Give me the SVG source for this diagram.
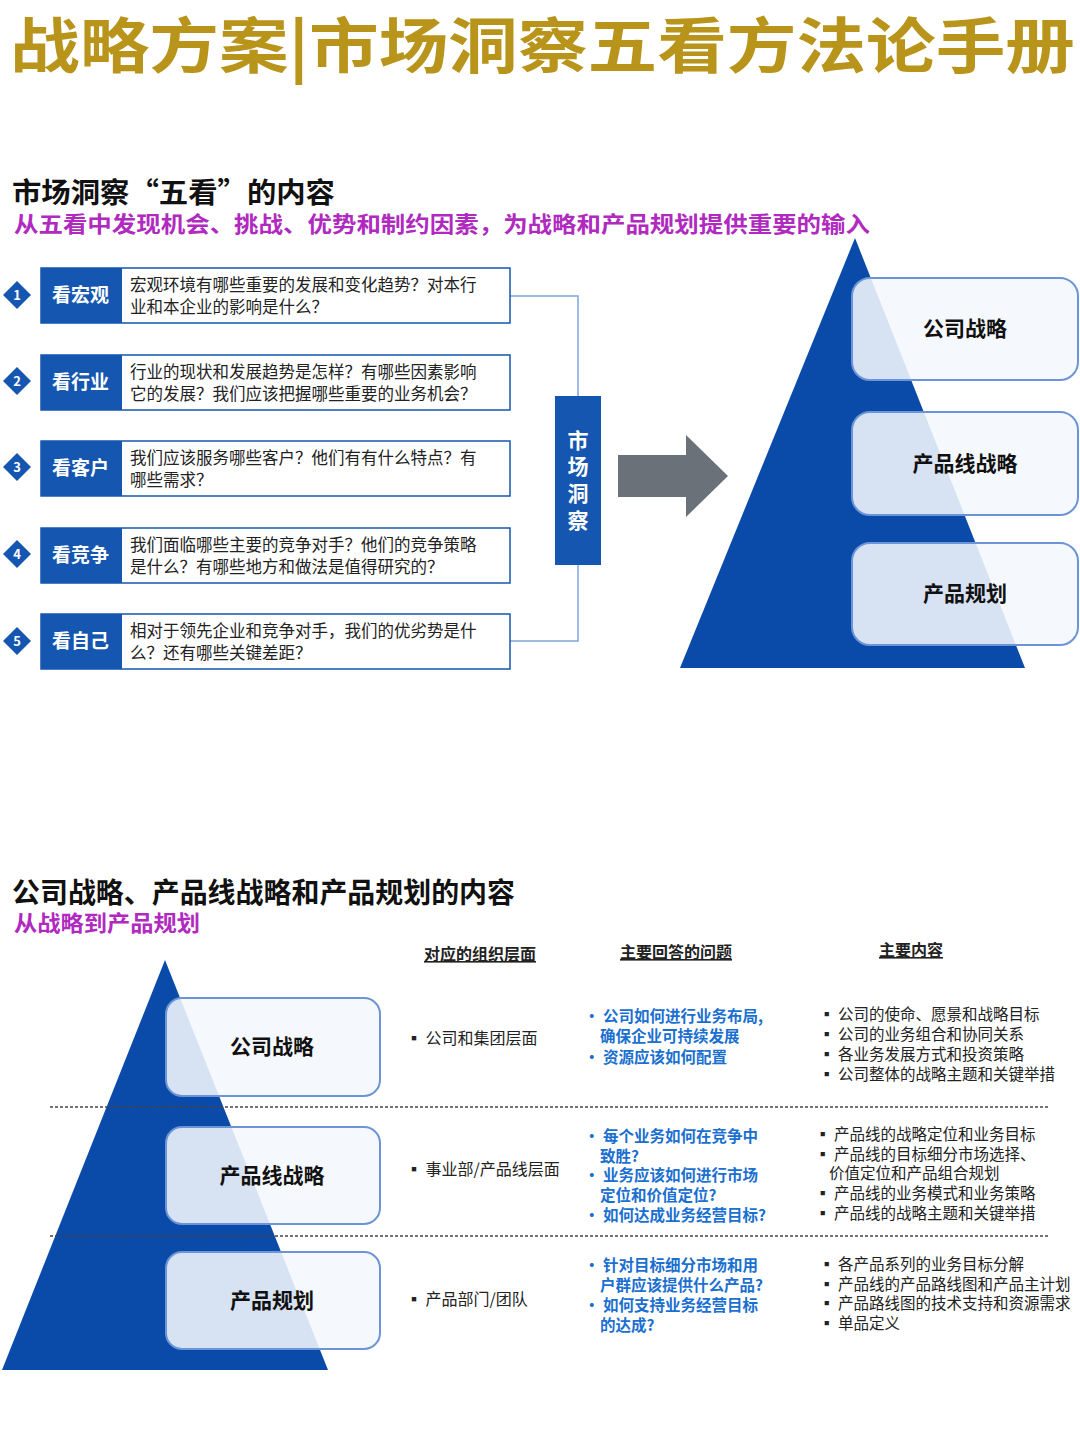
<svg xmlns="http://www.w3.org/2000/svg" width="1080" height="1440" viewBox="0 0 1080 1440">
<style>
text{font-family:"Noto Sans CJK SC","Liberation Sans",sans-serif}
.lab{fill:#1456b0}
.lt{fill:#fff;font-size:19px;font-weight:bold}
.q{font-size:16.5px;fill:#222}
.tbox{fill:#fff;stroke:#1456b0;stroke-width:1.5}
.num{fill:#fff;font-size:13px;font-weight:bold;text-anchor:middle}
.pbox{fill:#f4f7fc;fill-opacity:0.88;stroke:#6b95d6;stroke-width:2}
.pt{font-size:21px;font-weight:bold;text-anchor:middle;fill:#111}
.h{font-size:16px;font-weight:bold;fill:#222;text-decoration:underline;text-anchor:middle}
.c2{font-size:16px;fill:#222}
.c3{font-size:15.5px;font-weight:bold;fill:#1a6fd0}
.c4{font-size:15.5px;fill:#222}
.conn{fill:none;stroke:#7fa6d6;stroke-width:1.5}
</style>
<rect width="1080" height="1440" fill="#fff"/>
<text x="10" y="68" font-size="60" font-weight="bold" fill="#b8941a" textLength="1065" lengthAdjust="spacingAndGlyphs">战略方案|市场洞察五看方法论手册</text>
<text x="12" y="203" font-size="28" font-weight="bold" fill="#111" textLength="323" lengthAdjust="spacingAndGlyphs">市场洞察“五看”的内容</text>
<text x="14" y="232" font-size="22" font-weight="bold" fill="#b02ac0" textLength="856" lengthAdjust="spacingAndGlyphs">从五看中发现机会、挑战、优势和制约因素，为战略和产品规划提供重要的输入</text>
<g id="connectors">
<path class="conn" d="M510 296 H578 V641 H510"/>
<path d="M618 455 H686 V435 L728 476 L686 517 V497 H618 Z" fill="#6b7178"/>
</g>
<g id="n1"><rect class="tbox" x="41" y="268" width="469" height="55"/><rect class="lab" x="41" y="268" width="81" height="55"/><text class="lt" x="52" y="302">看宏观</text><path d="M17 281 L31 295 L17 309 L3 295 Z" fill="#1456b0"/><text class="num" x="17" y="300">1</text><text class="q" x="130" y="291">宏观环境有哪些重要的发展和变化趋势？对本行</text><text class="q" x="130" y="313">业和本企业的影响是什么？</text></g>
<g id="n2"><rect class="tbox" x="41" y="355" width="469" height="55"/><rect class="lab" x="41" y="355" width="81" height="55"/><text class="lt" x="52" y="389">看行业</text><path d="M17 367 L31 381 L17 395 L3 381 Z" fill="#1456b0"/><text class="num" x="17" y="386">2</text><text class="q" x="130" y="378">行业的现状和发展趋势是怎样？有哪些因素影响</text><text class="q" x="130" y="400">它的发展？我们应该把握哪些重要的业务机会？</text></g>
<g id="n3"><rect class="tbox" x="41" y="441" width="469" height="55"/><rect class="lab" x="41" y="441" width="81" height="55"/><text class="lt" x="52" y="475">看客户</text><path d="M17 453 L31 467 L17 481 L3 467 Z" fill="#1456b0"/><text class="num" x="17" y="472">3</text><text class="q" x="130" y="464">我们应该服务哪些客户？他们有有什么特点？有</text><text class="q" x="130" y="486">哪些需求？</text></g>
<g id="n4"><rect class="tbox" x="41" y="528" width="469" height="55"/><rect class="lab" x="41" y="528" width="81" height="55"/><text class="lt" x="52" y="562">看竞争</text><path d="M17 540 L31 554 L17 568 L3 554 Z" fill="#1456b0"/><text class="num" x="17" y="559">4</text><text class="q" x="130" y="551">我们面临哪些主要的竞争对手？他们的竞争策略</text><text class="q" x="130" y="573">是什么？有哪些地方和做法是值得研究的？</text></g>
<g id="n5"><rect class="tbox" x="41" y="614" width="469" height="55"/><rect class="lab" x="41" y="614" width="81" height="55"/><text class="lt" x="52" y="648">看自己</text><path d="M17 627 L31 641 L17 655 L3 641 Z" fill="#1456b0"/><text class="num" x="17" y="646">5</text><text class="q" x="130" y="637">相对于领先企业和竞争对手，我们的优劣势是什</text><text class="q" x="130" y="659">么？还有哪些关键差距？</text></g>
<g id="insight"><rect x="555" y="396" width="46" height="169" fill="#1456b0"/><g font-size="21" font-weight="bold" fill="#fff" text-anchor="middle"><text x="578" y="448">市</text><text x="578" y="474">场</text><text x="578" y="501">洞</text><text x="578" y="528">察</text></g></g>
<g id="pyramid1"><path d="M855 238 L1025 668 L680 668 Z" fill="#0a4aa8"/>
<rect class="pbox" x="852" y="278" width="226" height="102" rx="18"/><text class="pt" x="965" y="336">公司战略</text>
<rect class="pbox" x="852" y="412" width="226" height="103" rx="18"/><text class="pt" x="965" y="471">产品线战略</text>
<rect class="pbox" x="852" y="543" width="226" height="102" rx="18"/><text class="pt" x="965" y="601">产品规划</text></g>
<text x="12" y="903" font-size="28" font-weight="bold" fill="#111" textLength="503" lengthAdjust="spacingAndGlyphs">公司战略、产品线战略和产品规划的内容</text>
<text x="14" y="931" font-size="22" font-weight="bold" fill="#b02ac0" textLength="186" lengthAdjust="spacingAndGlyphs">从战略到产品规划</text>
<text class="h" x="480" y="960">对应的组织层面</text>
<text class="h" x="676" y="958">主要回答的问题</text>
<text class="h" x="911" y="956">主要内容</text>
<g id="pyramid2"><path d="M165 960 L328 1370 L2 1370 Z" fill="#0a4aa8"/>
<rect class="pbox" x="166" y="998" width="214" height="98" rx="16"/><text class="pt" x="272" y="1054">公司战略</text>
<rect class="pbox" x="166" y="1127" width="214" height="97" rx="16"/><text class="pt" x="272" y="1183">产品线战略</text>
<rect class="pbox" x="166" y="1252" width="214" height="97" rx="16"/><text class="pt" x="272" y="1308">产品规划</text></g>
<g stroke="#444" stroke-width="1.5" stroke-dasharray="3,2"><line x1="50" y1="1107" x2="1048" y2="1107"/><line x1="50" y1="1236" x2="1048" y2="1236"/></g>
<g id="col2" class="c2"><text x="406" y="1044">▪ 公司和集团层面</text><text x="406" y="1175">▪ 事业部/产品线层面</text><text x="406" y="1305">▪ 产品部门/团队</text></g>
<g id="col3" class="c3">
<text x="584" y="1022">• 公司如何进行业务布局,</text><text x="600" y="1042">确保企业可持续发展</text><text x="584" y="1063">• 资源应该如何配置</text>
<text x="584" y="1142">• 每个业务如何在竞争中</text><text x="600" y="1162">致胜?</text><text x="584" y="1181">• 业务应该如何进行市场</text><text x="600" y="1201">定位和价值定位?</text><text x="584" y="1221">• 如何达成业务经营目标?</text>
<text x="584" y="1271">• 针对目标细分市场和用</text><text x="600" y="1291">户群应该提供什么产品?</text><text x="584" y="1311">• 如何支持业务经营目标</text><text x="600" y="1331">的达成?</text></g>
<g id="col4" class="c4">
<text x="819" y="1020">▪ 公司的使命、愿景和战略目标</text><text x="819" y="1040">▪ 公司的业务组合和协同关系</text><text x="819" y="1060">▪ 各业务发展方式和投资策略</text><text x="819" y="1080">▪ 公司整体的战略主题和关键举措</text>
<text x="815" y="1140">▪ 产品线的战略定位和业务目标</text><text x="815" y="1160">▪ 产品线的目标细分市场选择、</text><text x="829" y="1179">价值定位和产品组合规划</text><text x="815" y="1199">▪ 产品线的业务模式和业务策略</text><text x="815" y="1219">▪ 产品线的战略主题和关键举措</text>
<text x="819" y="1270">▪ 各产品系列的业务目标分解</text><text x="819" y="1290">▪ 产品线的产品路线图和产品主计划</text><text x="819" y="1309">▪ 产品路线图的技术支持和资源需求</text><text x="819" y="1329">▪ 单品定义</text></g>
</svg>
